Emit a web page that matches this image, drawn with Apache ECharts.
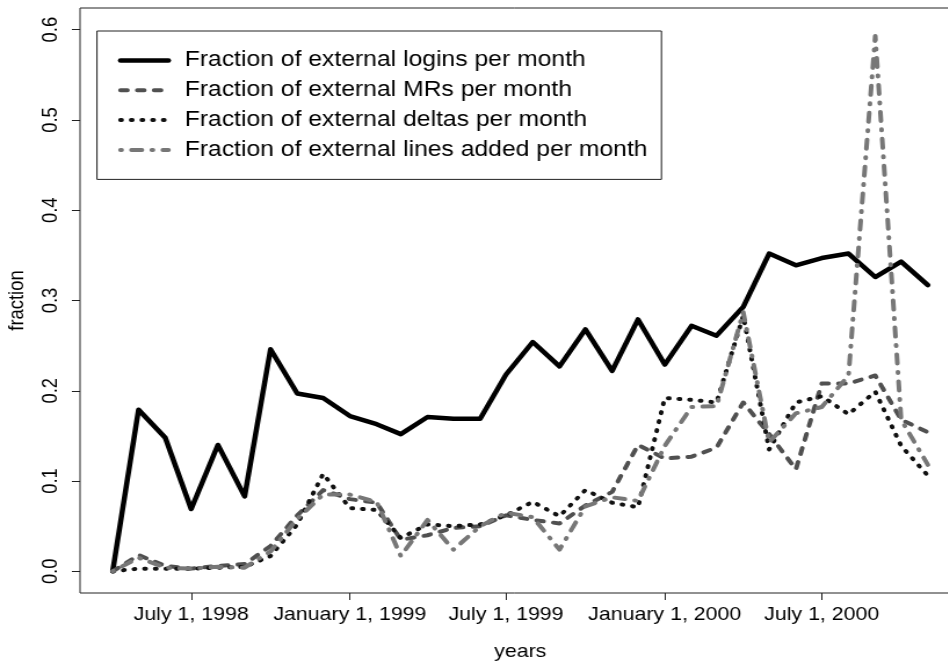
<!DOCTYPE html>
<html>
<head>
<meta charset="utf-8">
<title>Fraction of external activity per month</title>
<script src="https://cdn.jsdelivr.net/npm/echarts@6/dist/echarts.min.js"></script>
<style>
  html, body { margin: 0; padding: 0; background: #fff; overflow: hidden; }
  /* the reference plot is stretched sideways, so draw it narrower and widen it */
  #chart { width: 817px; height: 661px; transform: scaleX(1.16); transform-origin: 0 0; }
</style>
</head>
<body>
<div id="chart"></div>
<script>
const months = [
  '1998-04', '1998-05', '1998-06', '1998-07', '1998-08', '1998-09', '1998-10', '1998-11', '1998-12',
  '1999-01', '1999-02', '1999-03', '1999-04', '1999-05', '1999-06', '1999-07', '1999-08', '1999-09',
  '1999-10', '1999-11', '1999-12', '2000-01', '2000-02', '2000-03', '2000-04', '2000-05', '2000-06',
  '2000-07', '2000-08', '2000-09', '2000-10', '2000-11'
]
const logins = [0, 0.179, 0.148, 0.069, 0.140, 0.083, 0.246, 0.197, 0.192, 0.172, 0.163, 0.152, 0.171, 0.169, 0.169, 0.218,
  0.254, 0.227, 0.268, 0.222, 0.279, 0.229, 0.272, 0.261, 0.293, 0.352, 0.339, 0.347, 0.352, 0.326, 0.343, 0.317]
const mrs = [0, 0.018, 0.006, 0.003, 0.006, 0.008, 0.028, 0.062, 0.090, 0.080, 0.076, 0.035, 0.040, 0.048, 0.050, 0.062,
  0.057, 0.053, 0.073, 0.088, 0.140, 0.125, 0.127, 0.137, 0.187, 0.152, 0.113, 0.208, 0.208, 0.217, 0.168, 0.154]
const deltas = [0, 0.003, 0.003, 0.003, 0.004, 0.005, 0.017, 0.052, 0.108, 0.070, 0.068, 0.037, 0.052, 0.050, 0.052, 0.062,
  0.077, 0.061, 0.090, 0.076, 0.071, 0.192, 0.190, 0.187, 0.283, 0.135, 0.187, 0.194, 0.174, 0.199, 0.139, 0.106]
const linesAdded = [0, 0.015, 0.004, 0.003, 0.005, 0.004, 0.022, 0.058, 0.085, 0.085, 0.077, 0.017, 0.057, 0.024, 0.050, 0.065,
  0.060, 0.024, 0.072, 0.082, 0.078, 0.139, 0.182, 0.183, 0.287, 0.143, 0.175, 0.182, 0.217, 0.593, 0.168, 0.118]

const seriesNames = [
  'Fraction of external logins per month',
  'Fraction of external MRs per month',
  'Fraction of external deltas per month',
  'Fraction of external lines added per month'
]
const xTickMonths = ['1998-07', '1999-01', '1999-07', '2000-01', '2000-07']
const xTickLabels = ['July 1, 1998', 'January 1, 1999', 'July 1, 1999', 'January 1, 2000', 'July 1, 2000']
const yTicks = [0, 0.1, 0.2, 0.3, 0.4, 0.5, 0.6]
const yTickLabels = ['0.0', '0.1', '0.2', '0.3', '0.4', '0.5', '0.6']

const FONT = '"Liberation Sans", Arial, Helvetica, sans-serif'

// months -> day number (days since 1970), so the x axis is a plain value axis in days
function toDay(m) {
  const [y, mo] = m.split('-').map(Number)
  return Date.UTC(y, mo - 1, 1) / 86400000
}

const days = months.map(toDay)
const xTicks = xTickMonths.map(toDay)
const xLabelOf = {}
xTicks.forEach((t, i) => { xLabelOf[t] = xTickLabels[i] })
const yLabelOf = {}
yTicks.forEach((v, i) => { yLabelOf[v.toFixed(1)] = yTickLabels[i] })

// R pads the data range by 4% on both sides
const span = days[days.length - 1] - days[0]
const xMin = days[0] - span * 0.04
const xMax = days[days.length - 1] + span * 0.04

const styles = [
  { color: '#000000', width: 4.5, type: 'solid' },
  { color: '#505050', width: 4, type: [6, 8.5] },
  { color: '#111111', width: 4, type: [1, 8.2] },
  { color: '#777777', width: 4, type: [1, 8.5, 9, 8.5] }
]
const values = [logins, mrs, deltas, linesAdded]

const chart = echarts.init(document.getElementById('chart'))

chart.setOption({
  animation: false,
  backgroundColor: '#ffffff',
  textStyle: { fontFamily: FONT },
  grid: {
    // the plot box runs past the right edge of the picture
    left: 69, right: -11, top: 8, bottom: 68,
    outerBoundsMode: 'none',
    show: true, borderColor: '#222', borderWidth: 1, backgroundColor: 'transparent'
  },
  legend: {
    left: 83.6, top: 31,
    orient: 'vertical',
    padding: [19, 12, 19, 18],
    itemWidth: 41.4, itemHeight: 14, itemGap: 8.8,
    borderColor: '#222', borderWidth: 1, borderRadius: 0,
    backgroundColor: '#fff',
    textStyle: { fontFamily: FONT, fontSize: 21.3, color: '#000', padding: [0, 0, 0, 9] },
    data: seriesNames.map((name, i) => ({
      name,
      itemStyle: { opacity: 0 },
      lineStyle: { color: styles[i].color, width: styles[i].width, type: styles[i].type, cap: 'round', opacity: 1 }
    }))
  },
  xAxis: {
    type: 'value',
    min: xMin, max: xMax,
    name: 'years', nameLocation: 'middle', nameGap: 50,
    nameTextStyle: { fontFamily: FONT, fontSize: 18.4, color: '#000' },
    axisLine: { show: false, onZero: false },
    splitLine: { show: false },
    axisTick: { show: true, customValues: xTicks, length: 7, lineStyle: { color: '#222', width: 1 } },
    axisLabel: {
      customValues: xTicks,
      formatter: v => xLabelOf[v] || '',
      margin: 13, fontFamily: FONT, fontSize: 18.4, color: '#000'
    }
  },
  yAxis: {
    type: 'value',
    min: -0.024, max: 0.624,
    name: 'fraction', nameLocation: 'middle', nameGap: 45,
    nameTextStyle: { fontFamily: FONT, fontSize: 18.4, color: '#000' },
    axisLine: { show: false, onZero: false },
    splitLine: { show: false },
    axisTick: { show: true, customValues: yTicks, length: 7, lineStyle: { color: '#222', width: 1 } },
    axisLabel: {
      customValues: yTicks,
      rotate: 90,
      formatter: v => yLabelOf[Number(v).toFixed(1)] || '',
      margin: 16, fontFamily: FONT, fontSize: 18.4, color: '#000'
    }
  },
  series: seriesNames.map((name, i) => ({
    name,
    type: 'line',
    symbol: 'none',
    data: days.map((d, j) => [d, values[i][j]]),
    lineStyle: { color: styles[i].color, width: styles[i].width, type: styles[i].type, cap: 'round', join: 'round' },
    itemStyle: { color: styles[i].color },
    z: 2 + i
  }))
})
</script>
</body>
</html>
